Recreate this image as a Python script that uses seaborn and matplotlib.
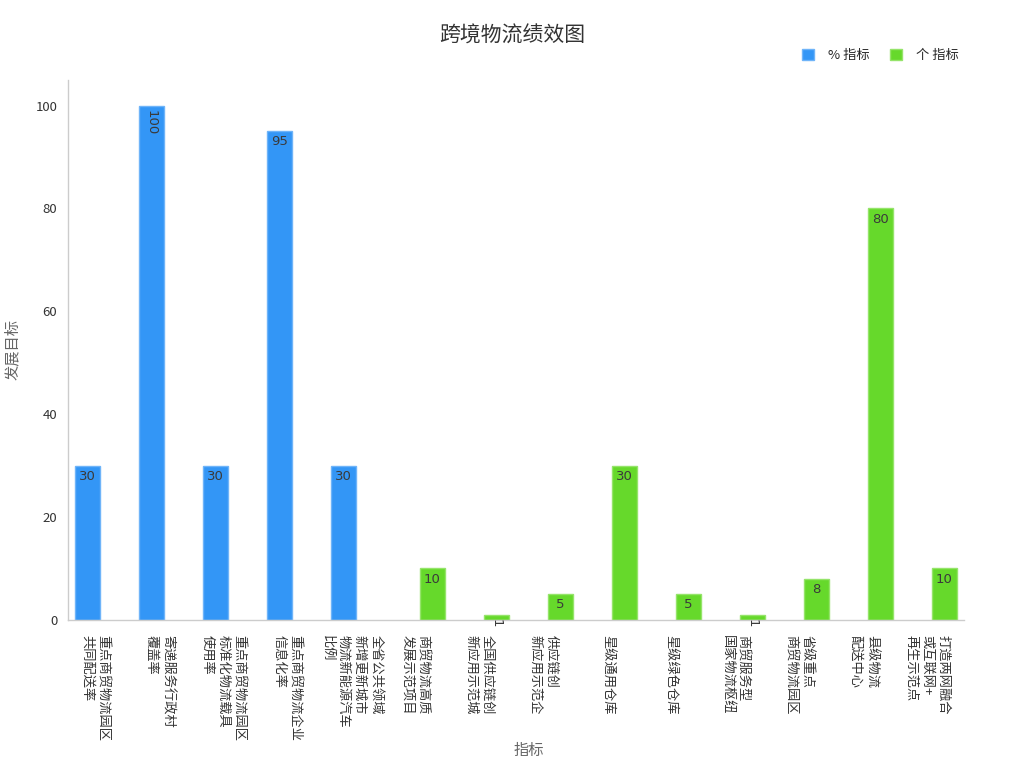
import pandas as pd
import matplotlib
matplotlib.use("Agg")
import matplotlib.pyplot as plt
import matplotlib.transforms as mtransforms
import seaborn as sns
from matplotlib.patches import Patch

# chart data
categories = [
    "重点商贸物流园区\n共同配送率",
    "寄递服务行政村\n覆盖率",
    "重点商贸物流园区\n标准化物流载具\n使用率",
    "重点商贸物流企业\n信息化率",
    "全省公共领域\n新增更新城市\n物流新能源汽车\n比例",
    "商贸物流高质\n发展示范项目",
    "全国供应链创\n新应用示范城",
    "供应链创\n新应用示范企",
    "星级通用仓库",
    "星级绿色仓库",
    "商贸服务型\n国家物流枢纽",
    "省级重点\n商贸物流园区",
    "县级物流\n配送中心",
    "打造两网融合\n或互联网+\n再生示范点",
]
values = [30, 100, 30, 95, 30, 10, 1, 5, 30, 5, 1, 8, 80, 10]
groups = ["% 指标"] * 5 + ["个 指标"] * 9
group_order = ["% 指标", "个 指标"]
colors = {"% 指标": "#3396f6", "个 指标": "#66d92b"}
edge_colors = {"% 指标": "#6fb4f9", "个 指标": "#95e46a"}

df = pd.DataFrame({"指标": categories, "发展目标": values, "类型": groups})

sns.set_theme(style="white")
plt.rcParams["font.family"] = ["Noto Sans CJK SC", "DejaVu Sans"]

fig = plt.figure(figsize=(10.24, 7.68), dpi=100)
ax = fig.add_axes([0.066, 0.193, 0.875, 0.703])

sns.barplot(data=df, x="指标", y="发展目标", hue="类型", hue_order=group_order,
            palette=colors, order=categories, width=0.78, dodge=True, ax=ax,
            legend=False, saturation=1)

for container, grp in zip(ax.containers, group_order):
    for bar in container:
        h = bar.get_height()
        if pd.isna(h) or h == 0:
            continue
        bar.set_edgecolor(edge_colors[grp])
        bar.set_linewidth(1)
        x = bar.get_x() + bar.get_width() / 2
        label = f"{int(h)}"
        rot = -90 if label in ("100", "1") else 0
        ax.annotate(label, (x, h), xytext=(0, -3), textcoords="offset points",
                    ha="center", va="top", rotation=rot, fontsize=9.5,
                    color="#3a3a3a", family="DejaVu Sans")

ax.set_xlim(-0.5, 13.5)
ax.set_ylim(0, 105)
ax.set_yticks([0, 20, 40, 60, 80, 100])
ax.tick_params(axis="x", rotation=-90, labelsize=9.5, length=5, width=0.8,
               pad=6, colors="#555555")
ax.tick_params(axis="y", labelsize=9.5, length=4, width=0.8, colors="#555555")
shift = mtransforms.ScaledTranslation(-0.045, 0, fig.dpi_scale_trans)
for lbl in ax.get_xticklabels():
    lbl.set_rotation_mode("anchor")
    lbl.set_ha("left")
    lbl.set_va("center")
    lbl.set_linespacing(1.3)
    lbl.set_transform(lbl.get_transform() + shift)
for lbl in ax.get_xticklabels() + ax.get_yticklabels():
    lbl.set_color("#333333")

sns.despine(ax=ax)
for side in ("left", "bottom"):
    ax.spines[side].set_color("#cccccc")
    ax.spines[side].set_linewidth(1)

ax.set_xlabel("指标", fontsize=11, color="#666666")
ax.xaxis.set_label_coords(0.515, -0.227)
ax.set_ylabel("发展目标", fontsize=11, color="#666666", labelpad=10)

fig.suptitle("跨境物流绩效图", fontsize=15, color="#333333", y=0.968)

handles = [Patch(facecolor=colors[g], edgecolor=edge_colors[g]) for g in group_order]
fig.legend(handles, group_order, loc="center right", bbox_to_anchor=(0.948, 0.928),
           ncol=2, frameon=False, fontsize=9.5, handlelength=0.9, handleheight=0.9,
           columnspacing=1.5, handletextpad=1.1)

fig.savefig("out.png", dpi=100)
